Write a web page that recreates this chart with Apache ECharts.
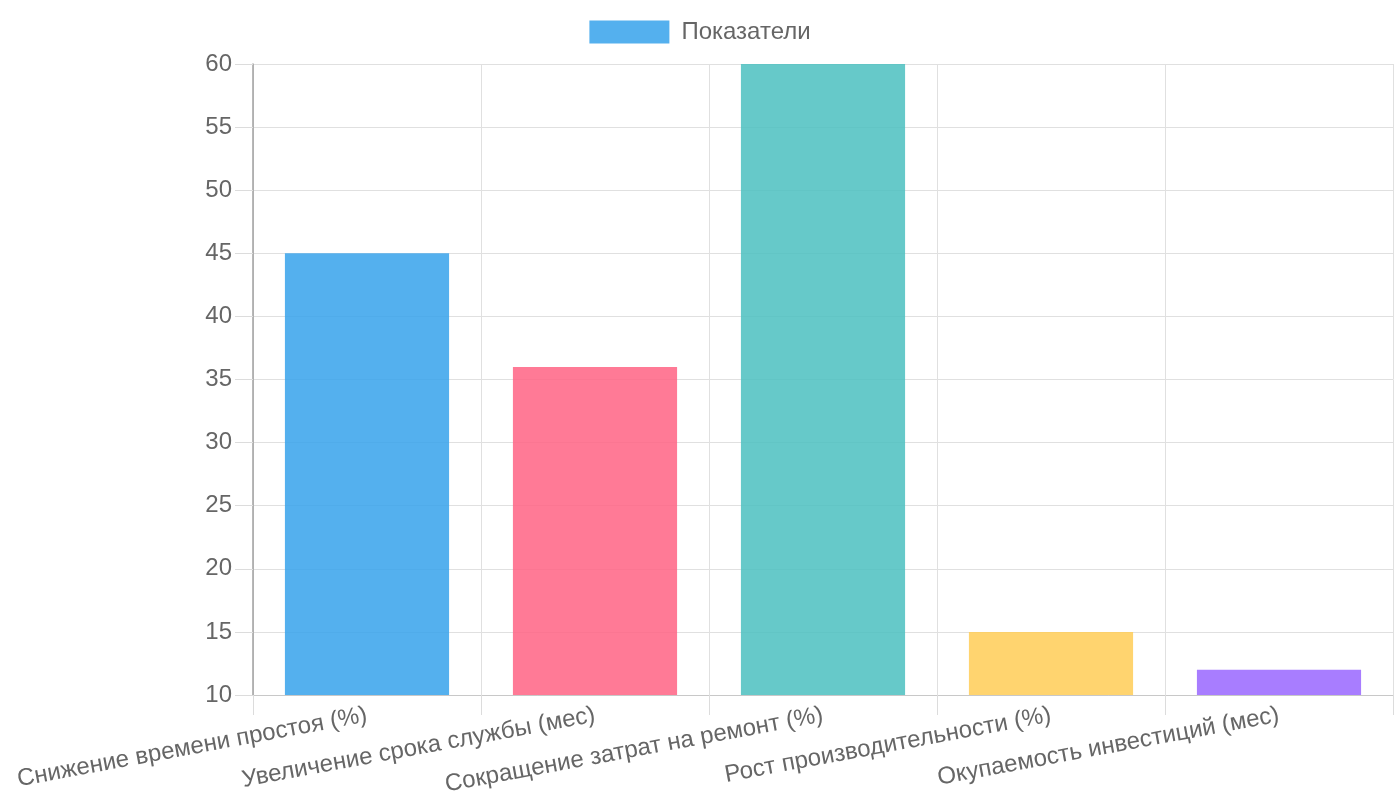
<html>
    <head>
        <meta charset="utf-8">
        <script src="https://cdn.jsdelivr.net/npm/echarts@6/dist/echarts.min.js"></script>
    </head>
    <body>
        <style>
            html, body, #main {
                width: 100%;
                height: 100%;
                margin: 0;
                background: #fff;
            }
        </style>
        <div id="main"></div>
        <script type="text/javascript">
            // данные графика
            var categories = [
                'Снижение времени простоя (%)',
                'Увеличение срока службы (мес)',
                'Сокращение затрат на ремонт (%)',
                'Рост производительности (%)',
                'Окупаемость инвестиций (мес)'
            ];
            var values = [45, 36, 60, 15, 12];
            var barColors = [
                'rgba(54,162,235,0.85)',
                'rgba(255,99,132,0.85)',
                'rgba(75,192,192,0.85)',
                'rgba(255,205,86,0.85)',
                'rgba(153,102,255,0.85)'
            ];
            var seriesName = 'Показатели';
            var yMin = 10, yMax = 60, yStep = 5;

            var chart = echarts.init(document.getElementById('main'));
            var font = '"Liberation Sans", Arial, sans-serif';

            var option = {
                animation: false,
                textStyle: { fontFamily: font },
                legend: {
                    top: 15,
                    left: 'center',
                    itemWidth: 80,
                    itemHeight: 23,
                    itemGap: 12,
                    textStyle: { fontSize: 24, color: '#666', fontFamily: font, padding: [0, 0, 0, 7] },
                    data: [{ name: seriesName, icon: 'rect' }]
                },
                grid: {
                    left: 253,
                    right: 7,
                    top: 64,
                    bottom: 105,
                    containLabel: false
                },
                xAxis: {
                    type: 'category',
                    data: categories,
                    axisLine: { lineStyle: { color: '#c8c8c8', width: 1 } },
                    axisTick: { show: true, length: 20, lineStyle: { color: '#dcdcdc' } },
                    splitLine: { show: true, lineStyle: { color: '#e0e0e0' } },
                    axisLabel: {
                        rotate: 10.5,
                        margin: 20,
                        fontSize: 24,
                        color: '#666',
                        fontFamily: font,
                        interval: 0
                    }
                },
                yAxis: {
                    type: 'value',
                    min: yMin,
                    max: yMax,
                    interval: yStep,
                    axisLine: { show: true, lineStyle: { color: '#a0a0a0', width: 1.5 } },
                    axisTick: { show: true, length: 18, lineStyle: { color: '#dcdcdc' } },
                    splitLine: { show: true, lineStyle: { color: '#e0e0e0' } },
                    axisLabel: { fontSize: 24, color: '#666', margin: 21, fontFamily: font }
                },
                series: [{
                    name: seriesName,
                    type: 'bar',
                    barWidth: '72%',
                    itemStyle: { color: barColors[0] },
                    data: values.map(function (v, i) {
                        return { value: v, itemStyle: { color: barColors[i] } };
                    })
                }]
            };
            chart.setOption(option);
            window.onresize = chart.resize;
        </script>
    </body>
</html>
